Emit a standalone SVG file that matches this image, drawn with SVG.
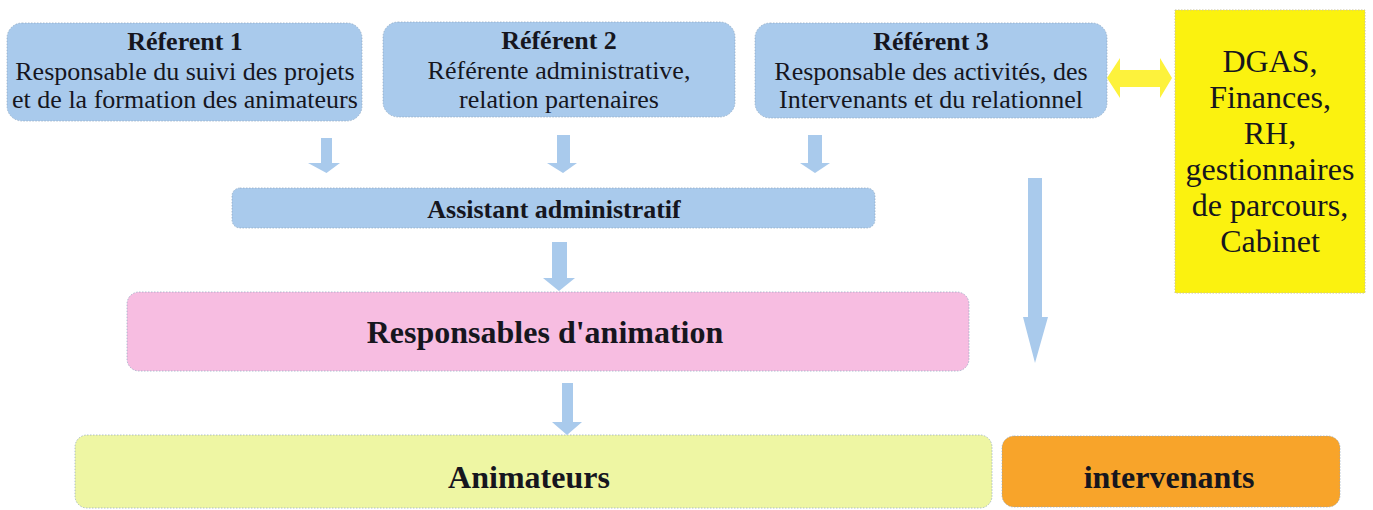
<svg xmlns="http://www.w3.org/2000/svg" width="1373" height="510" viewBox="0 0 1373 510">
<style>
  .t { font-family: "Liberation Serif", "Times New Roman", serif; fill: #16161e; text-anchor: middle; }
  .r { font-size: 26px; }
  .b { font-weight: bold; }
  .box { stroke: #8ea6bf; stroke-width: 1; stroke-dasharray: 1.5 1.5; stroke-opacity: 0.7; }
  .blue { fill: #a9caec; }
  .arrow { fill: #a9caec; }
</style>
<rect width="1373" height="510" fill="#ffffff"/>

<g id="referent1">
  <rect class="box blue" x="7" y="23" width="355" height="98" rx="15"/>
  <text class="t r b" x="185" y="50">Réferent 1</text>
  <text class="t r" x="185" y="80">Responsable du suivi des projets</text>
  <text class="t r" x="185" y="108">et de la formation des animateurs</text>
</g>

<g id="referent2">
  <rect class="box blue" x="383" y="22" width="352" height="95" rx="15"/>
  <text class="t r b" x="559" y="49">Référent 2</text>
  <text class="t r" x="559" y="79">Référente administrative,</text>
  <text class="t r" x="559" y="108">relation partenaires</text>
</g>

<g id="referent3">
  <rect class="box blue" x="755" y="23" width="352" height="95" rx="15"/>
  <text class="t r b" x="931" y="50">Référent 3</text>
  <text class="t r" x="931" y="80">Responsable des activités, des</text>
  <text class="t r" x="931" y="108">Intervenants et du relationnel</text>
</g>

<g id="dgas">
  <rect x="1175" y="10" width="190" height="283" fill="#fbf20f" stroke="#c9c39a" stroke-width="1" stroke-dasharray="1.5 1.5"/>
  <text class="t" style="font-size:32px" x="1270" y="72">DGAS,</text>
  <text class="t" style="font-size:32px" x="1270" y="108">Finances,</text>
  <text class="t" style="font-size:32px" x="1270" y="144">RH,</text>
  <text class="t" style="font-size:32px" x="1270" y="180">gestionnaires</text>
  <text class="t" style="font-size:32px" x="1270" y="216">de parcours,</text>
  <text class="t" style="font-size:32px" x="1270" y="252">Cabinet</text>
</g>

<g id="assistant">
  <rect class="box blue" x="232" y="188" width="643" height="40" rx="8"/>
  <text class="t b" style="font-size:26px" x="554" y="218">Assistant administratif</text>
</g>

<g id="responsables">
  <rect class="box" x="127" y="292" width="842" height="79" rx="12" fill="#f7bde1"/>
  <text class="t b" style="font-size:32px" x="545" y="343">Responsables d'animation</text>
</g>

<g id="animateurs">
  <rect class="box" x="75" y="435" width="917" height="73" rx="12" fill="#eef6a3"/>
  <text class="t b" style="font-size:32px" x="529" y="488">Animateurs</text>
</g>

<g id="intervenants">
  <rect class="box" x="1002" y="436" width="338" height="71" rx="12" fill="#f8a42a"/>
  <text class="t b" style="font-size:32px" x="1169" y="488">intervenants</text>
</g>

<g id="connectors">
  <!-- Referent 1 -> Assistant -->
  <polygon class="arrow" points="321,138 332,138 332,163 340,163 326.5,173 308,163 321,163"/>
  <!-- Referent 2 -> Assistant -->
  <polygon class="arrow" points="557,135 570,135 570,163 577,163 563,173 547,163 557,163"/>
  <!-- Referent 3 -> Assistant -->
  <polygon class="arrow" points="808,135 822,135 822,163 830,163 815,173 800,163 808,163"/>
  <!-- Assistant -> Responsables -->
  <polygon class="arrow" points="552,242 567,242 567,278 575,278 559,291 543,278 552,278"/>
  <!-- Responsables -> Animateurs -->
  <polygon class="arrow" points="562,383 573,383 573,422 582,422 567,435 552,422 562,422"/>
  <!-- Long arrow -> intervenants -->
  <polygon class="arrow" points="1028,178 1042,178 1042,317 1048,317 1035,363 1023,317 1028,317"/>
  <!-- Referent 3 <-> DGAS -->
  <polygon fill="#fdf23c" points="1107,78 1120,58 1120,70 1160,70 1160,58 1172,78 1160,98 1160,87 1120,87 1120,98"/>
</g>
</svg>
